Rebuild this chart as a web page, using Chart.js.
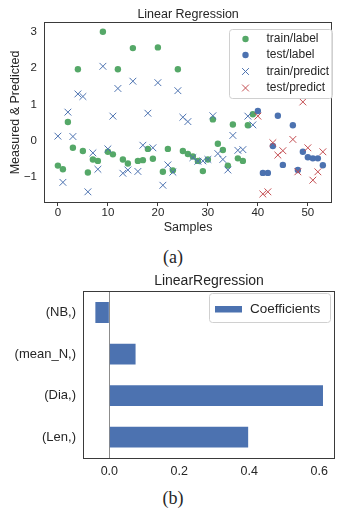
<!DOCTYPE html>
<html>
<head>
<meta charset="utf-8">
<script src="https://cdn.jsdelivr.net/npm/chart.js@4.4.0/dist/chart.umd.min.js"></script>
<style>
  html, body { margin: 0; padding: 0; background: #fff; }
  body { width: 337px; height: 513px; position: relative; overflow: hidden; }
  canvas { position: absolute; left: 0; }
  #scatter { top: 0; }
  #coef { top: 262px; }
  .cap { position: absolute; left: 0; width: 346px; text-align: center; font-family: "Liberation Serif", serif; font-size: 18px; line-height: 20px; color: #262626; }
</style>
</head>
<body>
<canvas id="scatter" width="337" height="240"></canvas>
<div class="cap" style="top:247px">(a)</div>
<canvas id="coef" width="337" height="222"></canvas>
<div class="cap" style="top:488px">(b)</div>
<script>
// (a) measured vs predicted, per sample
const trainSamples = [0, 1, 2, 3, 4, 5, 6, 7, 8, 9, 10, 11, 12, 13, 14, 15, 16, 17, 18, 19,
  20, 21, 22, 23, 24, 25, 26, 27, 28, 29, 30, 31, 32, 33, 34, 35, 36, 37, 38, 39];
const trainLabel = [-0.68, -0.78, 0.52, -0.19, 1.97, -0.28, -0.87, -0.51, -0.55, 3.0,
  -0.30, -0.37, 1.97, -0.51, -0.62, 2.55, -0.55, -0.53, -0.22, -0.49,
  2.57, -0.85, -0.22, -0.81, 1.97, -0.28, -0.36, -0.43, -0.55, -0.83,
  -0.51, 0.59, -0.08, -0.25, -0.68, 0.45, -0.48, -0.55, 0.43, 0.73];
const trainPredict = [0.13, -1.14, 0.79, 0.12, 1.29, 1.22, -1.40, -0.33, -0.78, 2.05,
  -0.22, 0.68, 1.44, -0.89, -0.80, 1.64, -0.84, -0.12, 0.76, -0.19,
  1.60, -1.22, -0.66, -0.86, 1.38, 0.65, 0.53, -0.46, -0.56, -0.55,
  -0.51, 0.69, -0.35, -0.51, -0.80, 0.15, -0.26, -0.24, 0.68, 0.44];
const testSamples = [40, 41, 42, 43, 44, 45, 47, 48, 49, 50, 51, 52, 53];
const testLabel = [0.82, -0.88, -0.88, -0.14, 0.69, -0.66, 0.43, -0.80, -0.30, -0.45, -0.48, -0.48, -0.67];
const testPredict = [0.68, -1.46, -1.40, -0.05, -0.39, -0.27, 0.04, -0.85, 1.07, -0.19, -1.08, -0.85, -0.30];
const sampleTicks = [0, 10, 20, 30, 40, 50];
const valueTicks = [-1, 0, 1, 2, 3];

// (b) coefficients
const features = ['(NB,)', '(mean_N,)', '(Dia,)', '(Len,)'];
const coefficients = [-0.040, 0.075, 0.611, 0.397];
const coefTicks = [0, 0.2, 0.4, 0.6];

const INK = '#262626';
const FONT = '"Liberation Sans", Arial, sans-serif';
const GREEN = '#55a868';
const BLUE = '#4c72b0';
const RED = '#c44e52';

const pts = (xs, ys) => xs.map((x, i) => ({ x, y: ys[i] }));
const fixTicks = (values) => (scale) => { scale.ticks = values.map((v) => ({ value: v })); };

// axes box round the plot, like matplotlib spines
const framePlugin = {
  id: 'frame',
  afterDraw(chart) {
    const { ctx, chartArea: a } = chart;
    ctx.save();
    ctx.strokeStyle = '#3a3a3a';
    ctx.lineWidth = 1;
    ctx.strokeRect(Math.round(a.left) - 0.5, Math.round(a.top) - 0.5,
      Math.round(a.right - a.left) + 1, Math.round(a.bottom - a.top) + 1);
    ctx.restore();
  }
};

// title centred over the plot area, not the canvas
const axesTitle = {
  id: 'axesTitle',
  afterDraw(chart, args, opts) {
    const { ctx, chartArea: a } = chart;
    ctx.save();
    ctx.fillStyle = INK;
    ctx.font = opts.size + 'px ' + FONT;
    ctx.textAlign = 'center';
    ctx.textBaseline = 'middle';
    ctx.fillText(opts.text, (a.left + a.right) / 2, opts.y);
    ctx.restore();
  }
};

function roundBox(ctx, x, y, w, h, r) {
  ctx.beginPath();
  ctx.moveTo(x + r, y);
  ctx.arcTo(x + w, y, x + w, y + h, r);
  ctx.arcTo(x + w, y + h, x, y + h, r);
  ctx.arcTo(x, y + h, x, y, r);
  ctx.arcTo(x, y, x + w, y, r);
  ctx.closePath();
  ctx.fillStyle = 'rgba(255,255,255,0.85)';
  ctx.fill();
  ctx.strokeStyle = '#d0d0d0';
  ctx.lineWidth = 1;
  ctx.stroke();
}

const scatterLegend = {
  id: 'scatterLegend',
  afterDraw(chart) {
    const { ctx } = chart;
    const rows = [39, 55, 71.5, 88];
    ctx.save();
    roundBox(ctx, 229.5, 29.5, 103, 69, 3);
    chart.data.datasets.forEach((ds, i) => {
      const y = rows[i];
      const mx = 245.5;
      if (ds.pointStyle === 'circle') {
        ctx.beginPath();
        ctx.arc(mx, y, 3.2, 0, Math.PI * 2);
        ctx.fillStyle = ds.backgroundColor;
        ctx.fill();
      } else {
        const r = ds.pointRadius * Math.SQRT1_2;
        ctx.beginPath();
        ctx.moveTo(mx - r, y - r); ctx.lineTo(mx + r, y + r);
        ctx.moveTo(mx - r, y + r); ctx.lineTo(mx + r, y - r);
        ctx.strokeStyle = ds.borderColor;
        ctx.lineWidth = 1;
        ctx.stroke();
      }
      ctx.fillStyle = INK;
      ctx.font = '12px ' + FONT;
      ctx.textBaseline = 'middle';
      ctx.textAlign = 'left';
      ctx.fillText(ds.label, 266.5, y);
    });
    ctx.restore();
  }
};

const coefLegend = {
  id: 'coefLegend',
  afterDraw(chart) {
    const { ctx } = chart;
    const ds = chart.data.datasets[0];
    ctx.save();
    roundBox(ctx, 209.5, 31.5, 121, 29, 3);
    ctx.fillStyle = ds.backgroundColor;
    ctx.fillRect(215, 44, 27, 6.5);
    ctx.fillStyle = INK;
    ctx.font = '13.5px ' + FONT;
    ctx.textBaseline = 'middle';
    ctx.textAlign = 'left';
    ctx.fillText(ds.label, 250, 47);
    ctx.restore();
  }
};

new Chart(document.getElementById('scatter'), {
  type: 'scatter',
  data: {
    datasets: [
      { label: 'train/label', data: pts(trainSamples, trainLabel), pointStyle: 'circle',
        pointRadius: 3.2, backgroundColor: GREEN, borderWidth: 0, order: 4 },
      { label: 'test/label', data: pts(testSamples, testLabel), pointStyle: 'circle',
        pointRadius: 3.2, backgroundColor: BLUE, borderWidth: 0, order: 3 },
      { label: 'train/predict', data: pts(trainSamples, trainPredict), pointStyle: 'crossRot',
        pointRadius: 4.8, borderColor: BLUE, backgroundColor: BLUE, borderWidth: 1, order: 2 },
      { label: 'test/predict', data: pts(testSamples, testPredict), pointStyle: 'crossRot',
        pointRadius: 4.8, borderColor: RED, backgroundColor: RED, borderWidth: 1, order: 1 }
    ]
  },
  options: {
    responsive: false,
    animation: false,
    events: [],
    layout: { padding: { left: 0, right: 4, top: 23, bottom: 0 } },
    plugins: {
      legend: { display: false },
      tooltip: { enabled: false },
      axesTitle: { text: 'Linear Regression', size: 12.5, y: 15 }
    },
    scales: {
      x: {
        type: 'linear',
        min: -2.58,
        max: 54.67,
        afterFit: (s) => { s.height = 38; },
        afterBuildTicks: fixTicks(sampleTicks),
        grid: { drawOnChartArea: false, drawTicks: true, tickLength: 4, color: '#3a3a3a' },
        border: { display: false },
        ticks: { padding: 0, color: INK, font: { family: FONT, size: 11.5 }, maxRotation: 0, autoSkip: false },
        title: { display: true, text: 'Samples', color: INK, font: { family: FONT, size: 12.5 },
          padding: { top: 0, bottom: 4.5 } }
      },
      y: {
        type: 'linear',
        min: -1.68,
        max: 3.24,
        afterFit: (s) => { s.width = 45; },
        afterBuildTicks: fixTicks(valueTicks),
        grid: { display: false, drawTicks: false },
        border: { display: false },
        ticks: {
          padding: 8, color: INK, font: { family: FONT, size: 11.5 },
          callback: (v) => (v < 0 ? '\u2212' + Math.abs(v) : String(v))
        },
        title: { display: true, text: 'Measured & Predicted', color: INK,
          font: { family: FONT, size: 12.5 }, padding: { top: 8.5, bottom: 0 } }
      }
    }
  },
  plugins: [framePlugin, axesTitle, scatterLegend]
});

new Chart(document.getElementById('coef'), {
  type: 'bar',
  data: {
    labels: features,
    datasets: [{
      label: 'Coefficients',
      data: coefficients,
      backgroundColor: BLUE,
      borderWidth: 0,
      barPercentage: 0.5,
      categoryPercentage: 1
    }]
  },
  options: {
    indexAxis: 'y',
    responsive: false,
    animation: false,
    events: [],
    layout: { padding: { left: 0, right: 3, top: 29.7, bottom: 0 } },
    plugins: {
      legend: { display: false },
      tooltip: { enabled: false },
      axesTitle: { text: 'LinearRegression', size: 14, y: 19 }
    },
    scales: {
      x: {
        type: 'linear',
        min: -0.0725,
        max: 0.6425,
        afterFit: (s) => { s.height = 26; },
        afterBuildTicks: fixTicks(coefTicks),
        grid: {
          drawTicks: false,
          lineWidth: 1,
          color: (c) => (c.tick && c.tick.value === 0 ? '#8c8c8c' : 'rgba(0,0,0,0)')
        },
        border: { display: false },
        ticks: { padding: 6, color: INK, font: { family: FONT, size: 12.5 },
          callback: (v) => Number(v).toFixed(1) }
      },
      y: {
        afterFit: (s) => { s.width = 84; },
        grid: { display: false, drawTicks: false },
        border: { display: false },
        ticks: { padding: 8, color: INK, font: { family: FONT, size: 13 } }
      }
    }
  },
  plugins: [framePlugin, axesTitle, coefLegend]
});
</script>
</body>
</html>
